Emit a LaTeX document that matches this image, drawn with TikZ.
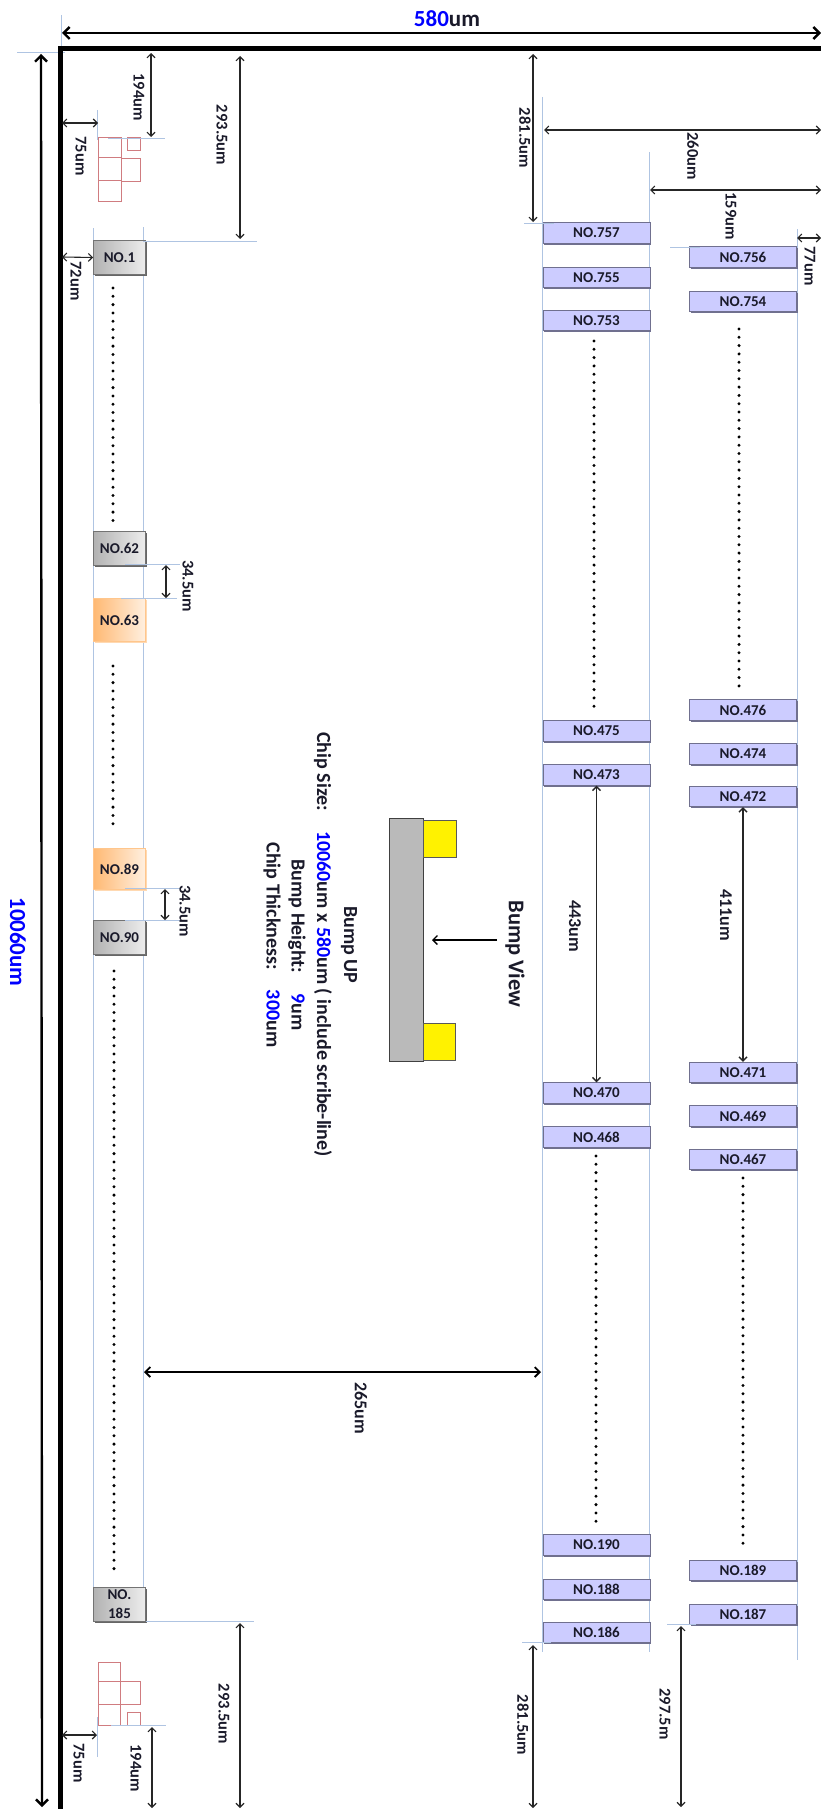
\documentclass[tikz,border=0pt]{standalone}
\usepackage{fontspec}
\setmainfont{Carlito}
\usetikzlibrary{arrows.meta,shadows}
\definecolor{tickblue}{HTML}{AFC4E2}
\definecolor{padred}{HTML}{D07C80}
\definecolor{chipblue}{HTML}{0000FF}
\definecolor{purplefill}{HTML}{CCCCFF}
\definecolor{purpleedge}{HTML}{70708F}
\definecolor{labelink}{HTML}{1A1A2A}
\tikzset{
  x=1pt,y=-1pt,
  bumpshadow/.style={general shadow={shadow xshift=1.2pt,shadow yshift=-1.4pt,fill=#1}},
  boxtext/.style={font=\fontsize{15}{19}\selectfont\bfseries,text=labelink,inner sep=0pt,align=center},
  padgray/.style={boxtext,draw=black!55,line width=.8pt,left color=black!30,right color=black!7,
    minimum width=52pt,minimum height=34pt,bumpshadow=black!60},
  padorange/.style={boxtext,draw=orange!45,line width=.6pt,left color=orange!55!white,right color=orange!12!white,
    minimum width=52pt,bumpshadow=orange!30},
  padpurple/.style={boxtext,draw=purpleedge,line width=.8pt,fill=purplefill,
    minimum width=107pt,minimum height=20.5pt,bumpshadow=purpleedge},
  tickline/.style={draw=tickblue,line width=.9pt},
  padsquare/.style={draw=padred,line width=1pt},
  dimarrow/.style={draw=black!85,line width=1.1pt,{Straight Barb[length=4pt,width=8pt]}-{Straight Barb[length=4pt,width=8pt]}},
  heavyarrow/.style={draw=black,line width=2.4pt,{Straight Barb[length=6pt,width=12pt]}-{Straight Barb[length=6pt,width=12pt]}},
  midarrow/.style={draw=black,line width=1.8pt,{Straight Barb[length=5pt,width=10pt]}-{Straight Barb[length=5pt,width=10pt]}},
  outline/.style={draw=black,line width=5pt},
  dimlabel/.style={font=\fontsize{16.5}{18}\selectfont\bfseries,text=labelink,rotate=-90,inner sep=0pt},
  wideDim/.style={dimlabel,font=\fontsize{18}{20}\selectfont\bfseries},
  bigdim/.style={font=\fontsize{23}{26}\selectfont\bfseries,text=labelink,inner sep=0pt},
  infolabel/.style={font=\fontsize{20}{22}\selectfont\bfseries,text=labelink,rotate=-90,inner sep=0pt},
  viewlabel/.style={font=\fontsize{22.5}{24}\selectfont\bfseries,text=labelink,rotate=-90,inner sep=0pt},
  dotrun/.style={draw=black,line width=3.3pt,line cap=round,dash pattern=on 0pt off 8.3pt},
}
\newcommand{\tickat}[5]{\coordinate (#1a) at (#2,#3);\coordinate (#1b) at (#4,#5);\draw[tickline] (#1a) -- (#1b);}
\newcommand{\dimat}[6][dimarrow]{\coordinate (#2a) at (#3,#4);\coordinate (#2b) at (#5,#6);\draw[#1] (#2a) -- (#2b);}
\newcommand{\dotsat}[4]{\coordinate (#1a) at (#2,#3);\coordinate (#1b) at (#2,#4);\draw[dotrun] (#1a) -- (#1b);}
\begin{document}
\begin{tikzpicture}
\useasboundingbox (0,0) rectangle (821,1809);
% guide lines under the pads
\tickat{tA}{61}{15}{61}{78}
\tickat{tB}{17}{52}{65}{52}
\tickat{tC}{93.5}{228}{93.5}{1590}
\tickat{tD}{143.5}{227}{143.5}{1590}
\tickat{tE}{542}{97}{542}{1652}
\tickat{tF}{649}{152}{649}{1652}
\tickat{tG}{797}{229}{797}{1660}
\tickat{tH}{97}{110}{97}{140}
\tickat{tQ}{97}{1717}{97}{1757}
% chip outline
\coordinate (cTL) at (60,49);
\coordinate (cTR) at (821,49);
\coordinate (cBL) at (60,1809);
\draw[outline,line cap=round] (cTR) -- (cTL) -- (cBL);
% alignment pads
\draw[padsquare] (98,138) rectangle (121,157);
\draw[padsquare] (98,157) rectangle (121,180);
\draw[padsquare] (98,180) rectangle (121,201);
\draw[padsquare] (121,158) rectangle (140,181);
\draw[padsquare] (127,138) rectangle (140,150);
\draw[padsquare] (98,1662) rectangle (120,1681);
\draw[padsquare] (98,1681) rectangle (120,1704);
\draw[padsquare] (98,1704) rectangle (120,1725);
\draw[padsquare] (120,1681) rectangle (140,1704);
\draw[padsquare] (127,1712) rectangle (140,1725);
% left column
\node[padgray] (n1) at (119.5,257.5) {NO.1};
\node[padgray] (n62) at (119.5,548.5) {NO.62};
\node[padorange,minimum height=43pt] (n63) at (119.5,620) {NO.63};
\node[padorange,minimum height=41pt] (n89) at (119.5,869) {NO.89};
\node[padgray] (n90) at (119.5,937.5) {NO.90};
\node[padgray] (n185) at (119.5,1604.5) {NO.\\185};
% first right column
\foreach \nm/\ya in {757/233,755/277.5,753/320.5,475/731,473/775,470/1093,468/1137,190/1545,188/1589.5,186/1632.5}
  \node[padpurple] (n\nm) at (596.5,\ya) {NO.\nm};
% second right column
\foreach \nm/\ya in {756/257,754/301.5,476/710,474/754,472/796.5,471/1072.5,469/1116,467/1159.5,189/1570.5,187/1614.5}
  \node[padpurple] (n\nm) at (743,\ya) {NO.\nm};
% guide lines over the pads
\tickat{tI}{108}{138.5}{165}{138.5}
\tickat{tJ}{143}{241}{257}{241}
\tickat{tK}{125}{564}{180}{564}
\tickat{tL}{121}{598}{177}{598}
\tickat{tM}{125}{888}{180}{888}
\tickat{tN}{125}{920}{180}{920}
\tickat{tO}{146}{1621}{254}{1621}
\tickat{tP}{111}{1725}{166}{1725}
\tickat{tR}{524}{223}{554}{223}
\tickat{tS}{670}{247}{700}{247}
\tickat{tT}{522}{1642}{551}{1642}
\tickat{tU}{667}{1624}{696}{1624}
% dots
\dotsat{dA}{113}{288}{521}
\dotsat{dB}{113}{666}{829}
\dotsat{dC}{114}{971}{1570}
\dotsat{dD}{594}{341}{707}
\dotsat{dE}{596}{1156}{1524}
\dotsat{dF}{739}{329}{691}
\dotsat{dG}{743}{1178}{1545}
% overall dimensions
\dimat[heavyarrow]{aW}{62}{33}{821}{33}
\dimat[heavyarrow]{aH}{41}{54}{42}{1807}
\node[bigdim,anchor=center] (lW) at (447,19) {\textcolor{chipblue}{580}um};
\node[bigdim,text=chipblue,rotate=-90] (lH) at (18,942) {10060um};
% dimension arrows top left
\dimat{a194}{151}{53}{151}{137}
\node[dimlabel] (l194) at (139,97) {194um};
\dimat{a293}{240}{56}{240}{239}
\node[dimlabel] (l293) at (222,135) {293.5um};
\dimat{a75}{62}{123}{98}{123}
\node[dimlabel] (l75) at (81,156) {75um};
\coordinate (a72a) at (62,257);
\draw[dimarrow] (a72a) -- (n1.west);
\node[dimlabel] (l72) at (76,281) {72um};
% spacing
\dimat{a345}{166}{565}{166}{598}
\node[dimlabel] (l345) at (188,586) {34.5um};
\dimat{a345b}{165}{889}{165}{920}
\node[dimlabel] (l345b) at (185,911) {34.5um};
% bottom left
\dimat{a293b}{240}{1623}{240}{1808}
\node[dimlabel] (l293b) at (224,1714) {293.5um};
\dimat{a75b}{62}{1735}{97}{1735}
\node[dimlabel] (l75b) at (79,1763) {75um};
\dimat{a194b}{152}{1727}{152}{1808}
\node[dimlabel] (l194b) at (136,1768) {194um};
% top right
\dimat{a281}{533}{54}{533}{222}
\node[dimlabel] (l281) at (525,138) {281.5um};
\dimat{a260}{544}{130}{821}{130}
\node[dimlabel] (l260) at (693,156) {260um};
\dimat{a159}{650}{190}{821}{190}
\node[dimlabel] (l159) at (731,216) {159um};
\dimat{a77}{797}{238}{821}{238}
\node[dimlabel] (l77) at (810,266) {77um};
% bottom right
\dimat{a281b}{533}{1645}{533}{1808}
\node[dimlabel] (l281b) at (523,1725) {281.5um};
\dimat{a297}{681}{1626}{681}{1807}
\node[dimlabel] (l297) at (665,1714) {297.5m};
% middle
\dimat[midarrow]{a265}{144}{1372}{541}{1372}
\node[wideDim] (l265) at (361,1408) {265um};
\draw[dimarrow,line width=1.4pt] (n473) -- (n470);
\node[wideDim] (l443) at (575,926) {443um};
\draw[dimarrow,line width=1.4pt] (n472) -- (n471);
\node[wideDim] (l411) at (726,915) {411um};
% bump view
\node[draw=black!75,line width=1pt,fill=black!27,minimum width=34pt,minimum height=243pt,inner sep=0pt] (chipbody) at (406,939.5) {};
\node[draw=black!65,line width=1pt,fill=yellow,minimum width=33pt,minimum height=37pt,inner sep=0pt] (bumpA) at (439.5,838.5) {};
\node[draw=black!65,line width=1pt,fill=yellow,minimum width=32pt,minimum height=37pt,inner sep=0pt] (bumpB) at (439,1041.5) {};
\coordinate (viewS) at (497,940);
\coordinate (viewE) at (432,940);
\draw[draw=black,line width=1.3pt,-{Straight Barb[length=4.5pt,width=9pt]}] (viewS) -- (viewE);
\node[viewlabel] (lview) at (515,954) {Bump View};
\node[infolabel] (lup) at (349,945) {Bump UP};
\node[infolabel] (lsize) at (323,944.5) {Chip Size:\hspace{1em}\textcolor{chipblue}{10060}um x \textcolor{chipblue}{580}um ( include scribe-line)};
\node[infolabel] (lheight) at (297,945) {Bump Height:\hspace{1em}\textcolor{chipblue}{9}um};
\node[infolabel] (lthick) at (272,945) {Chip Thickness:\hspace{1em}\textcolor{chipblue}{300}um};
\end{tikzpicture}
\end{document}
